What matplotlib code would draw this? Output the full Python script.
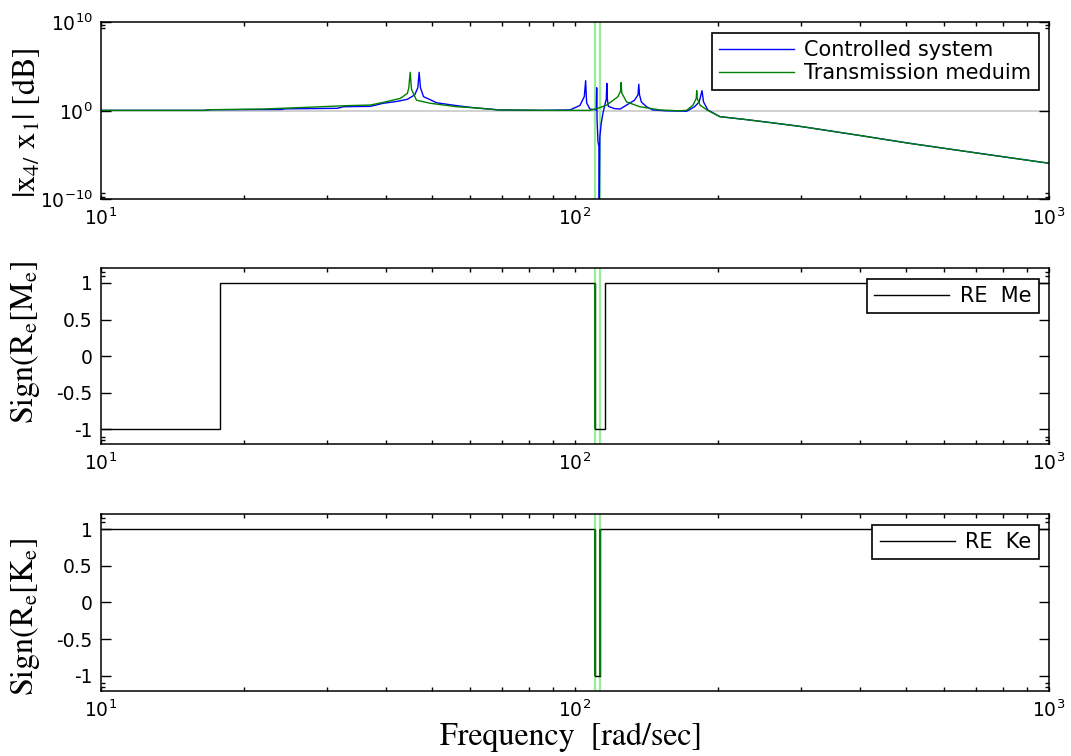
import numpy as np
import matplotlib
matplotlib.use("Agg")
import matplotlib.pyplot as plt
from matplotlib.ticker import FixedLocator, NullFormatter, LogLocator

# === DATA ===
# |x4/x1| magnitude, stored as log10 values
cs_freq = [10, 16.5, 17, 24, 24.5, 31.5, 32.5, 37, 39.4, 42, 44.3, 45.9, 46.6, 46.9, 47.2,
           47.9, 51.1, 56.3, 61, 66, 69, 85, 97.6, 102.4, 104.6, 105.3, 105.8, 107.5,
           110.9, 111.1, 111.3, 111.8, 112.3, 112.5, 112.8, 113.5, 114.5, 115.8, 116.4,
           116.7, 117.0, 117.6, 121, 124.5, 128.5, 133.5, 135.8, 136.3, 136.8, 138,
           141.5, 145.8, 155, 172, 178.7, 182.8, 185.3, 186.7, 190.6, 202, 230, 260,
           302, 400, 507, 700, 1000]
cs_log_mag = [0.05, 0.05, 0.12, 0.15, 0.22, 0.28, 0.46, 0.5, 0.85, 1.05, 1.3, 1.8, 2.6, 4.35, 2.6,
              1.6, 0.9, 0.58, 0.35, 0.2, 0.1, 0.05, 0.1, 0.6, 1.6, 3.4, 0.9, 0.2,
              0.1, 2.6, -1.0, -3.5, -4.0, -12, -3.0, -1.5, -0.3, 0.85, 1.3,
              3.1, 1.3, 0.5, 0.25, 0.2, 0.65, 1.2, 1.8, 3.0, 1.8, 1.0,
              0.46, 0.1, 0.0, -0.05, 0.46, 1.0, 2.27, 1.0, 0.1, -0.66, -1.0, -1.35,
              -1.8, -2.8, -3.67, -4.75, -5.93]

tm_freq = [10, 16.5, 17, 22, 27.4, 33, 37, 39.4, 42.8, 44.3, 44.6, 44.9, 45.2, 46.3, 49.5,
           56.3, 61, 68.8, 90, 107.5, 112, 116.7, 123.2, 124.7, 125.1, 125.5, 128.5, 137,
           151, 165, 172, 177.4, 180.2, 180.6, 181.0, 183.5, 189.7, 202, 230, 260,
           302, 400, 507, 700, 1000]
tm_log_mag = [0.05, 0.05, 0.12, 0.2, 0.4, 0.58, 0.65, 0.95, 1.4, 1.97, 2.6, 4.35, 2.4, 1.2, 0.85,
              0.46, 0.35, 0.1, 0.05, 0.05, 0.3, 0.65, 1.6, 2.2, 3.2, 2.0, 1.0, 0.46,
              0.1, 0.0, 0.05, 0.65, 1.4, 2.27, 1.4, 0.65, 0.1, -0.66, -1.0, -1.35,
              -1.8, -2.8, -3.67, -4.75, -5.93]

# sign of Re[Me] and Re[Ke] (piecewise constant between edges)
me_edges = [10, 17.8, 110.2, 115.7, 1000]
me_sign = [-1, 1, -1, 1]
ke_edges = [10, 110.2, 112.9, 1000]
ke_sign = [1, -1, 1]

# frequencies of the green markers
marker_freqs = [110.2, 112.9]
me_tm_jumps = [110.2]
ke_tm_jumps = [110.2, 112.9]

BLUE = "#0000ff"
GREEN = "#008000"
LIGHT_GREEN = "#98ee98"

plt.rcParams["font.family"] = "DejaVu Sans"

fig = plt.figure(figsize=(10.71, 7.56), dpi=100)
ax1 = fig.add_axes([0.0943, 0.7364, 0.8852, 0.2341])
ax2 = fig.add_axes([0.0943, 0.4127, 0.8852, 0.2324])
ax3 = fig.add_axes([0.0943, 0.0864, 0.8852, 0.2333])

label_kw = dict(fontsize=23, fontfamily="STIXGeneral", math_fontfamily="stix")
leg_kw = dict(loc="upper right", fontsize=15, fancybox=False, edgecolor="black",
              framealpha=1, borderaxespad=0.5, borderpad=0.35, handlelength=3.6,
              handletextpad=0.5, labelspacing=0.15)

# === 1. magnitude ===
ax1.axhline(1, color="#c8c8c8", lw=1.2, zorder=1)
for f in marker_freqs:
    ax1.axvline(f, color=LIGHT_GREEN, lw=1.6, zorder=1)
ax1.plot(cs_freq, np.power(10.0, cs_log_mag), color=BLUE, lw=1.0, label="Controlled system")
ax1.plot(tm_freq, np.power(10.0, tm_log_mag), color=GREEN, lw=1.0, label="Transmission meduim")
ax1.set_xscale("log")
ax1.set_yscale("log")
ax1.set_ylim(1e-10, 1e10)
ax1.yaxis.set_major_locator(FixedLocator([1e-10, 1e0, 1e10]))
ax1.yaxis.set_minor_locator(FixedLocator([2e9, 5e9, 2e-10, 5e-10]))
ax1.yaxis.set_minor_formatter(NullFormatter())
ax1.set_ylabel(r"$\mathrm{|x_{4/}\ x_{1}|\ [dB]}$", **label_kw)
ax1.yaxis.set_label_coords(-0.062, 0.43)
leg = ax1.legend(**leg_kw)
leg.get_frame().set_linewidth(1.2)

# === 2. sign of Re[Me] ===
for f in marker_freqs:
    ax2.axvline(f, color=LIGHT_GREEN, lw=1.6, zorder=1)
ax2.stairs(me_sign, me_edges, baseline=None, color="black", lw=1.0, label="RE  Me")
ax2.vlines(me_tm_jumps, -1, 1, color=GREEN, lw=1.4)
ax2.set_ylabel(r"$\mathrm{Sign(R_{e}[M_{e}]}$", **label_kw)
ax2.yaxis.set_label_coords(-0.062, 0.58)
leg = ax2.legend(**leg_kw)
leg.get_frame().set_linewidth(1.2)

# === 3. sign of Re[Ke] ===
for f in marker_freqs:
    ax3.axvline(f, color=LIGHT_GREEN, lw=1.6, zorder=1)
ax3.stairs(ke_sign, ke_edges, baseline=None, color="black", lw=1.0, label="RE  Ke")
ax3.vlines(ke_tm_jumps, -1, 1, color=GREEN, lw=1.4)
ax3.set_ylabel(r"$\mathrm{Sign(R_{e}[K_{e}]}$", **label_kw)
ax3.yaxis.set_label_coords(-0.062, 0.42)
leg = ax3.legend(**leg_kw)
leg.get_frame().set_linewidth(1.2)

for ax in (ax2, ax3):
    ax.set_xscale("log")
    ax.set_ylim(-1.2, 1.2)
    ax.set_yticks([-1, -0.5, 0, 0.5, 1])
    ax.set_yticklabels(["-1", "-0.5", "0", "0.5", "1"])
    ax.yaxis.set_minor_locator(FixedLocator([1.1, 1.15, -1.1, -1.15]))

for ax in (ax1, ax2, ax3):
    ax.set_xlim(10, 1000)
    ax.xaxis.set_major_locator(LogLocator(base=10))
    ax.xaxis.set_minor_locator(LogLocator(base=10, subs=np.arange(2, 10)))
    ax.xaxis.set_minor_formatter(NullFormatter())
    ax.tick_params(which="both", direction="in", top=True, right=True, labelsize=13.5,
                   width=1.0, pad=6)
    ax.tick_params(axis="x", which="both", length=3)
    ax.tick_params(axis="y", which="major", length=7)
    ax.tick_params(axis="y", which="minor", length=3)
    for s in ax.spines.values():
        s.set_linewidth(1.1)

fig.text(0.533, 0.025, "Frequency  [rad/sec]", ha="center", va="center",
         fontsize=23, fontfamily="STIXGeneral")

fig.savefig("out.png", dpi=100)
